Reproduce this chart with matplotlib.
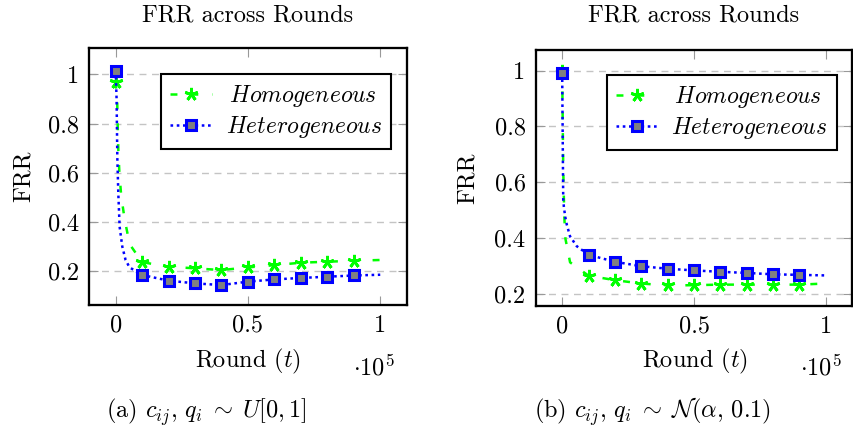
import matplotlib
matplotlib.use("Agg")
import matplotlib.pyplot as plt
from matplotlib.lines import Line2D

# ---------------- data ----------------
rounds_a_homo = [0, 600, 750, 1000, 1400, 2100, 3400, 5300, 10000, 20000, 30000,
                 40000, 50000, 60000, 70000, 80000, 90000, 100000]
frr_a_homo = [0.970, 0.882, 0.800, 0.695, 0.600, 0.505, 0.410, 0.309, 0.236, 0.218,
              0.211, 0.204, 0.215, 0.224, 0.234, 0.238, 0.242, 0.245]

rounds_a_hetero = [0, 350, 630, 1000, 1500, 2500, 3750, 5250, 10000, 20000, 30000,
                   40000, 50000, 60000, 70000, 80000, 90000, 100000]
frr_a_hetero = [1.015, 0.900, 0.660, 0.516, 0.380, 0.300, 0.245, 0.215, 0.184, 0.161,
                0.150, 0.143, 0.157, 0.166, 0.172, 0.177, 0.182, 0.185]

rounds_b_homo = [0, 400, 800, 1250, 3000, 10000, 20000, 30000, 40000, 50000, 60000,
                 70000, 80000, 90000, 100000]
frr_b_homo = [1.000, 0.650, 0.477, 0.396, 0.312, 0.264, 0.248, 0.236, 0.229, 0.230,
              0.232, 0.232, 0.232, 0.232, 0.236]

rounds_b_hetero = [0, 400, 630, 1130, 1760, 3000, 5520, 10000, 20000, 30000, 40000,
                   50000, 60000, 70000, 80000, 90000, 100000]
frr_b_hetero = [0.991, 0.537, 0.513, 0.477, 0.447, 0.405, 0.370, 0.339, 0.314, 0.298,
                0.289, 0.283, 0.278, 0.274, 0.269, 0.267, 0.265]

marker_rounds = [0, 10000, 20000, 30000, 40000, 50000, 60000, 70000, 80000, 90000]

series_names = ["Homogeneous", "Heterogeneous"]
legend_labels = [r"$\,Homogeneous$", r"$Heterogeneous$"]
x_ticks = [0, 50000, 100000]
x_ticklabels = ["0", "0.5", "1"]
y_ticks = [0.2, 0.4, 0.6, 0.8, 1.0]
y_ticklabels = ["0.2", "0.4", "0.6", "0.8", "1"]
title_text = "FRR across Rounds"
ylabel_text = "FRR"
xlabel_text = r"Round ($t$)"
captions = [r"(a) $c_{ij},\, q_i\;\sim\;U[0,1]$",
            r"(b) $c_{ij},\, q_i\;\sim\;\mathcal{N}(\alpha,\, 0.1)$"]

# ---------------- style ----------------
plt.rcParams["font.family"] = "serif"
plt.rcParams["font.serif"] = ["cmr10"]
plt.rcParams["mathtext.fontset"] = "cm"
plt.rcParams["axes.unicode_minus"] = False
plt.rcParams["axes.formatter.use_mathtext"] = True
plt.rcParams["lines.scale_dashes"] = False

W, H = 854, 429
FS = 17.5
LEG_FS = 17
fig = plt.figure(figsize=(W / 100, H / 100), dpi=100)

GREEN = "#00ff00"
BLUE = "#0000ff"
GRAY = "#808080"
LW = 1.8
homo_style = dict(color=GREEN, linewidth=LW, dashes=(5, 10), marker=(5, 2, 0),
                  markersize=9.5, markeredgewidth=2.0, markeredgecolor=GREEN)
hetero_style = dict(color=BLUE, linewidth=LW, dashes=(1.9, 2.6), marker="s",
                    markersize=7.4, markeredgewidth=2.2, markeredgecolor=BLUE,
                    markerfacecolor=GRAY)


def px_rect(left, top, right, bottom):
    return [left / W, 1 - bottom / H, (right - left) / W, (bottom - top) / H]


def ftxt(x, y, s, **kw):
    fig.text(x / W, 1 - y / H, s, fontsize=FS, **kw)


panels = [
    dict(rect=(89.2, 48, 406.7, 305), ylim=(0.062, 1.107),
         homo=(rounds_a_homo, frr_a_homo), hetero=(rounds_a_hetero, frr_a_hetero),
         title_x=248, ylabel_x=35, xlabel_x=247.5, sci_x=395, cap_x=206.5,
         leg=(391, 74.3)),
    dict(rect=(535.8, 49.7, 852.2, 305.8), ylim=(0.156, 1.075),
         homo=(rounds_b_homo, frr_b_homo), hetero=(rounds_b_hetero, frr_b_hetero),
         title_x=694, ylabel_x=479, xlabel_x=694.5, sci_x=842, cap_x=653,
         leg=(836.7, 75)),
]

for i, p in enumerate(panels):
    ax = fig.add_axes(px_rect(*p["rect"]))
    hx, hy = p["homo"]
    ex, ey = p["hetero"]
    ax.plot(hx, hy, markevery=[hx.index(r) for r in marker_rounds], **homo_style,
            zorder=3)
    ax.plot(ex, ey, markevery=[ex.index(r) for r in marker_rounds], **hetero_style,
            zorder=4)
    ax.set_xlim(-10000, 110000)
    ax.set_ylim(*p["ylim"])
    ax.set_xticks(x_ticks)
    ax.set_xticklabels(x_ticklabels)
    ax.set_yticks(y_ticks)
    ax.set_yticklabels(y_ticklabels)
    ax.tick_params(direction="in", length=6.5, width=0.8, color="#999999",
                   top=True, right=True, labelsize=FS)
    ax.tick_params(axis="x", pad=7.0)
    ax.tick_params(axis="y", pad=7.4)
    ax.yaxis.grid(True, linestyle=(0, (5, 4)), color="#c4c4c4", linewidth=1.0)
    ax.set_axisbelow(True)
    for s in ax.spines.values():
        s.set_linewidth(1.65)
        s.set_color("black")

    # texts
    cy = (p["rect"][1] + p["rect"][3]) / 2
    ftxt(p["title_x"], 22, title_text, ha="center", va="baseline")
    ftxt(p["ylabel_x"], cy, ylabel_text, ha="right", va="center", rotation=90)
    ftxt(p["xlabel_x"], 367.3, xlabel_text, ha="center", va="baseline")
    ftxt(p["sci_x"], 375, r"$\cdot 10^5$", ha="right", va="baseline")
    ftxt(p["cap_x"], 418, captions[i], ha="center", va="baseline")

    handles = [Line2D([], [], **homo_style), Line2D([], [], **hetero_style)]
    leg = ax.legend(handles, legend_labels,
                    loc="upper right",
                    bbox_to_anchor=(p["leg"][0] / W, 1 - p["leg"][1] / H),
                    bbox_transform=fig.transFigure, borderaxespad=0,
                    fontsize=LEG_FS, fancybox=False, framealpha=1, edgecolor="black",
                    handlelength=1.75, handletextpad=0.6, labelspacing=0.22,
                    borderpad=0.38, numpoints=1)
    leg.get_frame().set_linewidth(1.5)

fig.savefig("out.png", dpi=100)
